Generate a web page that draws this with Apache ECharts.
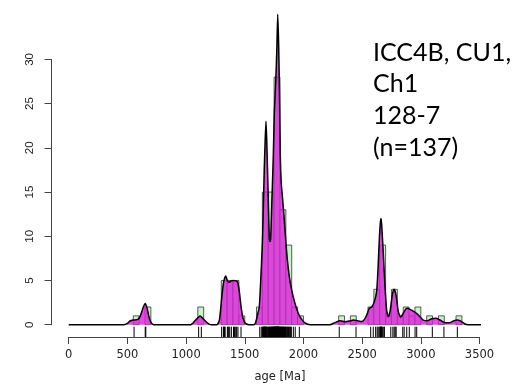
<!DOCTYPE html>
<html>
<head>
<meta charset="utf-8">
<script src="https://cdn.jsdelivr.net/npm/echarts@6/dist/echarts.min.js"></script>
<style>
  html, body { margin: 0; padding: 0; background: #fff; }
  #chart { width: 527px; height: 386px; }
</style>
</head>
<body>
<div id="chart"></div>
<script>
// Histogram: 50 Ma bins (start age, count)
const binWidth = 50;
const binStarts = [550, 650, 1100, 1300, 1350, 1400, 1450, 1600, 1650, 1700, 1750, 1800, 1850, 1900, 1950,
                   2300, 2400, 2550, 2600, 2650, 2700, 2750, 2800, 2850, 2900, 2950, 3050, 3150, 3300];
const binCounts = [1, 2, 2, 5, 5, 5, 1, 2, 15, 15, 28, 13, 9, 2, 1,
                   1, 1, 2, 4, 9, 1, 4, 1, 2, 1, 2, 1, 1, 1];

// Kernel density estimate (age in Ma, scaled to counts per bin)
const kdeAges = [0, 470, 500, 522, 551, 590, 612, 636, 653, 670, 687, 707, 725,
  1040, 1060, 1076, 1096, 1119, 1142, 1164, 1193, 1212,
  1262, 1275, 1285, 1295, 1305, 1315, 1325, 1338, 1352, 1366, 1385, 1405, 1425, 1440, 1452, 1462, 1472, 1484, 1498, 1515, 1535,
  1573, 1588, 1600, 1612, 1624, 1636, 1650, 1658, 1666, 1673, 1681, 1688, 1696, 1709, 1715, 1721, 1730, 1743, 1752, 1764, 1773,
  1781, 1789, 1796, 1803, 1811, 1822, 1837, 1849, 1863, 1880, 1900, 1928, 1956, 1985, 2013, 2045, 2080,
  2226, 2269, 2312, 2354, 2391, 2425, 2459, 2496, 2520, 2539, 2561, 2582, 2604, 2624, 2636, 2647, 2656, 2662, 2669, 2680, 2695,
  2709, 2723, 2738, 2757, 2772, 2789, 2808, 2829, 2851, 2880, 2908, 2942, 2979, 3021, 3055, 3093, 3129, 3163, 3206, 3249,
  3283, 3311, 3340, 3376, 3405, 3650];
const kdeValues = [0, 0, 0.15, 0.42, 0.52, 0.6, 1.05, 2.0, 2.4, 1.75, 0.7, 0.15, 0,
  0, 0.2, 0.45, 0.72, 0.98, 0.72, 0.42, 0.08, 0,
  0, 0.2, 0.6, 1.8, 3.2, 4.4, 5.1, 5.5, 5.0, 4.8, 4.95, 5.0, 4.95, 4.8, 3.9, 2.8, 1.7, 0.8, 0.3, 0.08, 0,
  0, 0.1, 0.6, 1.3, 2.0, 5.0, 9.2, 13.0, 17.5, 20.5, 23.0, 20.5, 16.5, 9.8, 9.4, 9.8, 13.5, 19.0, 24.0, 27.5, 31.0,
  35.1, 31.5, 26.0, 19.0, 16.0, 14.3, 11.8, 9.6, 7.3, 5.4, 3.9, 2.4, 1.3, 0.6, 0.2, 0.03, 0,
  0, 0.23, 0.45, 0.34, 0.41, 0.53, 0.45, 0.35, 0.6, 1.1, 1.85, 2.0, 2.6, 3.8, 6.5, 9.8, 11.6, 12.0, 10.8, 8.1, 4.3,
  1.65, 0.9, 1.5, 3.35, 4.0, 3.35, 1.5, 0.83, 1.3, 1.85, 1.73, 1.47, 1.1, 0.53, 0.45, 0.68, 0.72, 0.53, 0.23, 0.23,
  0.45, 0.53, 0.41, 0.08, 0, 0];

// Individual grain ages (rug)
const grainAges = [557, 652, 657, 1107, 1130,
  1303, 1318, 1322, 1327, 1333, 1352, 1358, 1364, 1372, 1386, 1404, 1412, 1423, 1431, 1442, 1468,
  1628, 1641,
  1652, 1655, 1658, 1661, 1664, 1667, 1670, 1672, 1675, 1678, 1681, 1684, 1688, 1692, 1697,
  1703, 1707, 1711, 1715, 1719, 1723, 1727, 1730, 1733, 1736, 1739, 1742, 1745, 1747, 1749,
  1751, 1753, 1755, 1757, 1759, 1761, 1763, 1765, 1767, 1769, 1771, 1773, 1775, 1776, 1777, 1778, 1779, 1780, 1781, 1782,
  1783, 1785, 1787, 1789, 1791, 1793, 1795, 1798,
  1802, 1805, 1808, 1812, 1815, 1818, 1822, 1826, 1830, 1834, 1838, 1842, 1847,
  1853, 1858, 1863, 1868, 1873, 1879, 1885, 1891, 1897,
  1914, 1930, 1965,
  2305, 2448, 2573, 2595, 2615, 2628, 2636, 2645, 2652, 2655, 2658, 2660, 2663, 2667, 2672, 2680, 2690,
  2744, 2762, 2773, 2782, 2790, 2846, 2858, 2880, 2902, 2951, 2965, 3098, 3197, 3311];

const xTickStep = 500;
const yTickStep = 5;
const xLabel = 'age [Ma]';
const sampleLines = ['ICC4B, CU1,', 'Ch1', '128-7', '(n=137)'];

const axisGrey = '#444';
const chart = echarts.init(document.getElementById('chart'), null, { renderer: 'canvas' });

const option = {
  animation: false,
  backgroundColor: '#fff',
  grid: [
    { left: 68.7, right: 47.5, top: 59.4, bottom: 49 },
    { left: 51.5, width: 1, top: 59.4, bottom: 61.3 }
  ],
  xAxis: [
    {
      gridIndex: 0, type: 'value', min: 0, max: 3500, interval: xTickStep,
      axisLine: { show: true, onZero: false, lineStyle: { color: axisGrey, width: 1 } },
      axisTick: { show: true, length: 7, lineStyle: { color: axisGrey, width: 1 } },
      axisLabel: { fontFamily: 'DejaVu Sans', fontSize: 11.5, color: '#222', margin: 12,
                   formatter: v => String(v) },
      splitLine: { show: false }
    },
    { gridIndex: 1, type: 'value', show: false }
  ],
  yAxis: [
    { gridIndex: 0, type: 'value', min: -1.391, max: 30, show: false },
    {
      gridIndex: 1, type: 'value', min: 0, max: 30, interval: yTickStep,
      axisLine: { show: true, lineStyle: { color: axisGrey, width: 1 } },
      axisTick: { show: true, length: 7, lineStyle: { color: axisGrey, width: 1 } },
      axisLabel: { rotate: 90, fontFamily: 'Liberation Sans', fontSize: 11.5, color: '#222', margin: 16 },
      splitLine: { show: false }
    }
  ],
  series: [
    {
      name: 'histogram', type: 'custom', xAxisIndex: 0, yAxisIndex: 0, z: 1,
      data: binStarts.map((s, i) => [s, s + binWidth, binCounts[i]]),
      encode: { x: [0, 1], y: 2 },
      renderItem: function (params, api) {
        const p0 = api.coord([api.value(0), api.value(2)]);
        const p1 = api.coord([api.value(1), 0]);
        return {
          type: 'rect',
          shape: { x: p0[0], y: p0[1], width: p1[0] - p0[0], height: p1[1] - p0[1] },
          style: { fill: '#c8f5c8', stroke: '#333', lineWidth: 0.8 }
        };
      }
    },
    {
      name: 'kde', type: 'line', xAxisIndex: 0, yAxisIndex: 0, z: 2,
      data: kdeAges.map((a, i) => [a, kdeValues[i]]),
      showSymbol: false, symbol: 'none', smooth: 0.2, clip: false,
      lineStyle: { color: '#000', width: 1.5 },
      areaStyle: { color: 'rgb(220,30,220)', opacity: 0.8 }
    },
    {
      name: 'rug', type: 'custom', xAxisIndex: 0, yAxisIndex: 0, z: 3,
      data: grainAges.map(a => [a, 0]),
      encode: { x: 0, y: 1 },
      renderItem: function (params, api) {
        const x = api.coord([api.value(0), 0])[0];
        const bottom = params.coordSys.y + params.coordSys.height;
        return {
          type: 'line',
          shape: { x1: x, y1: bottom, x2: x, y2: bottom - 10.3 },
          style: { stroke: '#000', lineWidth: 1 }
        };
      }
    }
  ],
  graphic: [
    {
      type: 'text', x: 280, y: 377,
      style: { text: xLabel, font: '11.5px "DejaVu Sans"', fill: '#222', align: 'center', verticalAlign: 'middle' }
    }
  ].concat(sampleLines.map((t, i) => ({
    type: 'text', x: 373, y: [53.4, 84.4, 115.7, 147.7][i],
    style: { text: t, font: '25px Lato', fill: '#000', align: 'left', verticalAlign: 'middle' }
  })))
};

chart.setOption(option);
</script>
</body>
</html>
